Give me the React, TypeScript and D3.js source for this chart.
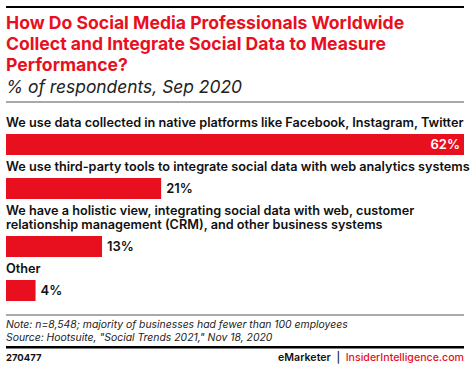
import React, { useEffect, useRef } from "react";
import * as d3 from "d3";

const categories = [
  ["We use data collected in native platforms like Facebook, Instagram, Twitter"],
  ["We use third-party tools to integrate social data with web analytics systems"],
  ["We have a holistic view, integrating social data with web, customer", "relationship management (CRM), and other business systems"],
  ["Other"],
];
const values = [62, 21, 13, 4];
const titleLines = [
  "How Do Social Media Professionals Worldwide",
  "Collect and Integrate Social Data to Measure",
  "Performance?",
];
const subtitle = "% of respondents, Sep 2020";
const notes = [
  "Note: n=8,548; majority of businesses had fewer than 100 employees",
  "Source: Hootsuite, \"Social Trends 2021,\" Nov 18, 2020",
];

const RED = "#e8101e";
const FONT = "Inter, 'Noto Sans', sans-serif";

export default function App() {
  const ref = useRef<SVGSVGElement>(null);

  useEffect(() => {
    const W = 470, H = 366, left = 6, right = 464;
    const svg = d3.select(ref.current);
    svg.selectAll("*").remove();
    svg.append("rect").attr("width", W).attr("height", H).attr("fill", "#fff");

    svg.append("rect").attr("x", left).attr("y", 6).attr("width", right - left).attr("height", 2).attr("fill", "#000");

    svg.selectAll(".title").data(titleLines).join("text").attr("class", "title")
      .attr("x", left).attr("y", (d, i) => 29 + i * 21)
      .style("font-family", FONT).style("font-size", "17.6px").style("font-weight", "700")
      .attr("fill", RED).text(d => d);

    svg.append("text").attr("x", left).attr("y", 93)
      .style("font-family", FONT).style("font-size", "17.4px").style("font-style", "italic")
      .attr("fill", "#222").text(subtitle);

    svg.append("rect").attr("x", left).attr("y", 101.5).attr("width", right - left).attr("height", 1).attr("fill", "#555");

    const x = d3.scaleLinear().domain([0, 62]).range([left, right]);

    // vertical layout: label lines then bar
    const barTops = [134, 178, 236, 280];
    const barH = 21;

    categories.forEach((lines, i) => {
      const g = svg.append("g");
      lines.forEach((ln, j) => {
        g.append("text").attr("x", left)
          .attr("y", barTops[i] - 7 - (lines.length - 1 - j) * 14)
          .style("font-family", FONT).style("font-size", "12.7px").style("font-weight", "600")
          .attr("fill", "#111").text(ln);
      });
      const w = x(values[i]) - x(0);
      g.append("rect").attr("x", x(0)).attr("y", barTops[i]).attr("width", w).attr("height", barH).attr("fill", RED);
      const inside = i === 0;
      g.append("text")
        .attr("x", inside ? x(values[i]) - 4 : x(values[i]) + 5)
        .attr("y", barTops[i] + barH / 2 + 4.5)
        .attr("text-anchor", inside ? "end" : "start")
        .style("font-family", FONT).style("font-size", "13px").style("font-weight", "600")
        .attr("fill", inside ? "#fff" : "#111").text(values[i] + "%");
    });

    svg.append("rect").attr("x", left).attr("y", 314.5).attr("width", right - left).attr("height", 1).attr("fill", "#555");
    svg.selectAll(".note").data(notes).join("text").attr("class", "note")
      .attr("x", left).attr("y", (d, i) => 328 + i * 13)
      .style("font-family", FONT).style("font-size", "10.4px").style("font-style", "italic")
      .attr("fill", "#222").text(d => d);

    svg.append("rect").attr("x", left).attr("y", 346).attr("width", right - left).attr("height", 2.5).attr("fill", "#000");

    svg.append("text").attr("x", left).attr("y", 361)
      .style("font-family", FONT).style("font-size", "9.5px").style("font-weight", "700")
      .attr("fill", "#111").text("270477");

    const foot = svg.append("text").attr("x", right).attr("y", 361).attr("text-anchor", "end")
      .style("font-family", FONT).style("font-size", "10.6px").style("font-weight", "500")
      .attr("xml:space", "preserve");
    foot.append("tspan").attr("fill", "#111").style("font-weight", "600").text("eMarketer");
    foot.append("tspan").attr("fill", "#111").text("  |  ");
    foot.append("tspan").attr("fill", RED).text("InsiderIntelligence.com");
  }, []);

  return (
    <svg ref={ref} width={470} height={366} style={{ position: "absolute", left: 0, top: 0 }} />
  );
}
